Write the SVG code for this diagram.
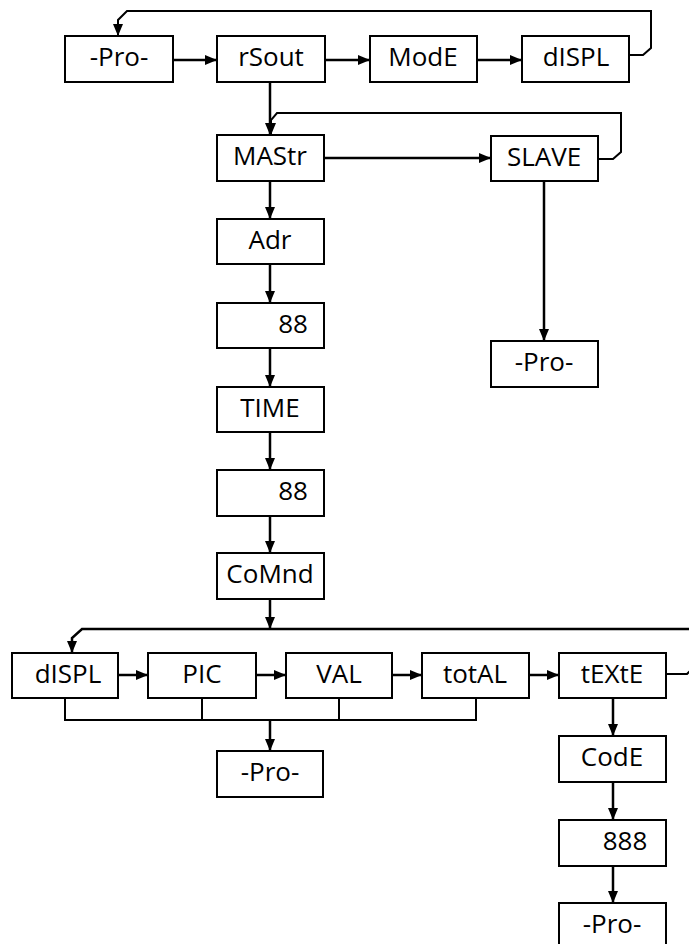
<svg xmlns="http://www.w3.org/2000/svg" width="689" height="944" viewBox="0 0 689 944">
<style>
.box{fill:#fff;stroke:#000;stroke-width:2}
.t{font-family:"Open Sans","Noto Sans",sans-serif;font-size:26px;fill:#000;text-anchor:middle}
.c{fill:none;stroke:#000;stroke-width:2.5}
.l{fill:none;stroke:#000;stroke-width:2}
</style>
<defs>
<marker id="ah" markerUnits="userSpaceOnUse" markerWidth="12" markerHeight="12" viewBox="0 0 12 12" refX="12" refY="6" orient="auto">
<path d="M0,1 L12,6 L0,11 Z" fill="#000"/>
</marker>
</defs>
<rect width="689" height="944" fill="#fff"/>
<g id="connectors">
<path class="c" d="M173,60 H217" marker-end="url(#ah)"/>
<path class="c" d="M325,60 H370" marker-end="url(#ah)"/>
<path class="c" d="M477,60 H522" marker-end="url(#ah)"/>
<path class="l" d="M629,55 H643 L651,48 V11 H127 L118,20 V36" marker-end="url(#ah)"/>
<path class="c" d="M270,82 V135" marker-end="url(#ah)"/>
<path class="l" d="M598,159 H613 L621,152 V113 H277 L271,120 V135" marker-end="url(#ah)"/>
<path class="c" d="M324,158 H491" marker-end="url(#ah)"/>
<path class="c" d="M544,181 V341" marker-end="url(#ah)"/>
<path class="c" d="M270,181 V219" marker-end="url(#ah)"/>
<path class="c" d="M270,264 V303" marker-end="url(#ah)"/>
<path class="c" d="M270,348 V387" marker-end="url(#ah)"/>
<path class="c" d="M270,432 V470" marker-end="url(#ah)"/>
<path class="c" d="M270,516 V553" marker-end="url(#ah)"/>
<path class="c" d="M270,599 V629" marker-end="url(#ah)"/>
<path class="l" d="M666,674 H687 L695,666"/>
<path class="c" d="M692,629 H82 L72,638 V653" marker-end="url(#ah)"/>
<path class="c" d="M118,675 H148" marker-end="url(#ah)"/>
<path class="c" d="M256,675 H286" marker-end="url(#ah)"/>
<path class="c" d="M392,675 H422" marker-end="url(#ah)"/>
<path class="c" d="M529,675 H559" marker-end="url(#ah)"/>
<path class="l" d="M65,698 V720 H476 V698 M202,698 V720 M339,698 V720"/>
<path class="c" d="M270,720 V751" marker-end="url(#ah)"/>
<path class="c" d="M613,698 V736" marker-end="url(#ah)"/>
<path class="c" d="M613,782 V820" marker-end="url(#ah)"/>
<path class="c" d="M613,866 V903" marker-end="url(#ah)"/>
</g>
<g id="pro1"><rect class="box" x="65" y="36" width="108" height="46"/><text class="t" x="119" y="66">-Pro-</text></g>
<g id="rsout"><rect class="box" x="217" y="36" width="108" height="46"/><text class="t" x="271" y="66">rSout</text></g>
<g id="mode"><rect class="box" x="370" y="36" width="107" height="46"/><text class="t" x="423" y="66">ModE</text></g>
<g id="displ1"><rect class="box" x="522" y="36" width="107" height="46"/><text class="t" x="576" y="66">dISPL</text></g>
<g id="mastr"><rect class="box" x="217" y="135" width="107" height="46"/><text class="t" x="270" y="165">MAStr</text></g>
<g id="slave"><rect class="box" x="491" y="136" width="107" height="45"/><text class="t" x="544" y="166">SLAVE</text></g>
<g id="pro2"><rect class="box" x="491" y="341" width="107" height="46"/><text class="t" x="544" y="371">-Pro-</text></g>
<g id="adr"><rect class="box" x="217" y="219" width="107" height="45"/><text class="t" x="270" y="249">Adr</text></g>
<g id="num1"><rect class="box" x="217" y="303" width="107" height="45"/><text class="t" x="293" y="333">88</text></g>
<g id="time"><rect class="box" x="217" y="387" width="107" height="45"/><text class="t" x="270" y="417">TIME</text></g>
<g id="num2"><rect class="box" x="217" y="470" width="107" height="46"/><text class="t" x="293" y="500">88</text></g>
<g id="comnd"><rect class="box" x="217" y="553" width="107" height="46"/><text class="t" x="270" y="583">CoMnd</text></g>
<g id="displ2"><rect class="box" x="12" y="653" width="106" height="45"/><text class="t" x="68" y="683">dISPL</text></g>
<g id="pic"><rect class="box" x="148" y="653" width="108" height="45"/><text class="t" x="202" y="683">PIC</text></g>
<g id="val"><rect class="box" x="286" y="653" width="106" height="45"/><text class="t" x="339" y="683">VAL</text></g>
<g id="total"><rect class="box" x="422" y="653" width="107" height="45"/><text class="t" x="475" y="683">totAL</text></g>
<g id="texte"><rect class="box" x="559" y="653" width="107" height="45"/><text class="t" x="612" y="683">tEXtE</text></g>
<g id="pro3"><rect class="box" x="217" y="751" width="106" height="46"/><text class="t" x="270" y="781">-Pro-</text></g>
<g id="code"><rect class="box" x="559" y="736" width="107" height="46"/><text class="t" x="612" y="766">CodE</text></g>
<g id="num3"><rect class="box" x="559" y="820" width="107" height="46"/><text class="t" x="625" y="850">888</text></g>
<g id="pro4"><rect class="box" x="559" y="903" width="107" height="46"/><text class="t" x="612" y="933">-Pro-</text></g>
</svg>
